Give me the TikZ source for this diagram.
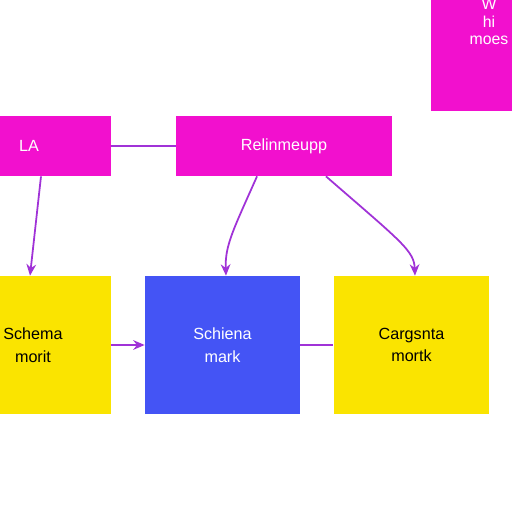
\documentclass[tikz,border=0pt]{standalone}
\usepackage{fontspec}
\setmainfont{Liberation Sans}
\usetikzlibrary{arrows.meta}

\definecolor{boxpink}{RGB}{242,16,206}
\definecolor{boxblue}{RGB}{68,84,245}
\definecolor{boxyellow}{RGB}{250,228,0}
\definecolor{linkpurple}{RGB}{160,50,215}

\begin{document}
\begin{tikzpicture}[x=0.02cm, y=-0.02cm,
        font=\fontsize{9.2}{13}\selectfont,
        box/.style={inner sep=0pt, align=center},
        pinkbox/.style={box, fill=boxpink, text=white, minimum height=1.2cm},
        bluebox/.style={box, fill=boxblue, text=white, minimum width=3.1cm, minimum height=2.76cm},
        yellowbox/.style={box, fill=boxyellow, text=black, minimum width=3.12cm, minimum height=2.76cm},
        link/.style={draw=linkpurple, line width=1pt},
        >={Stealth[length=6.5pt,width=5.5pt]}]
    \fill[white] (0,0) rectangle (512,512);
    \clip (0,0) rectangle (512,512);

    % top row
    \node[pinkbox, minimum width=2.32cm, minimum height=3.56cm,
          font=\fontsize{9}{10}\selectfont] (corner) at (489,22) {W\\hi\\moes};
    \node[pinkbox, minimum width=3.28cm] (la) at (29,146) {LA};
    \node[pinkbox, minimum width=4.32cm] (rel) at (284,146) {Relinmeupp};

    % bottom row
    \node[yellowbox] (schema) at (33,345) {Schema\\morit};
    \node[bluebox] (mark) at (222.5,345) {Schiena\\mark};
    \node[yellowbox] (cargo) at (411.5,345) {Cargsnta\\mortk};

    % connectors
    \draw[link] (la.east) -- (rel.west);
    \draw[link,->] ([xshift=0.24cm]la.south) -- ([xshift=-0.06cm]schema.north);
    \draw[link,->] ([xshift=-0.54cm]rel.south) .. controls +(-114:1.2cm) and +(92:0.6cm) .. ([xshift=0.07cm]mark.north);
    \draw[link,->] ([xshift=0.84cm]rel.south) .. controls +(-41:2cm) and +(92:0.5cm) .. ([xshift=0.07cm]cargo.north);
    \draw[link,->] (schema.east) -- (mark.west);
    \draw[link] (mark.east) -- (cargo.west);
\end{tikzpicture}
\end{document}
